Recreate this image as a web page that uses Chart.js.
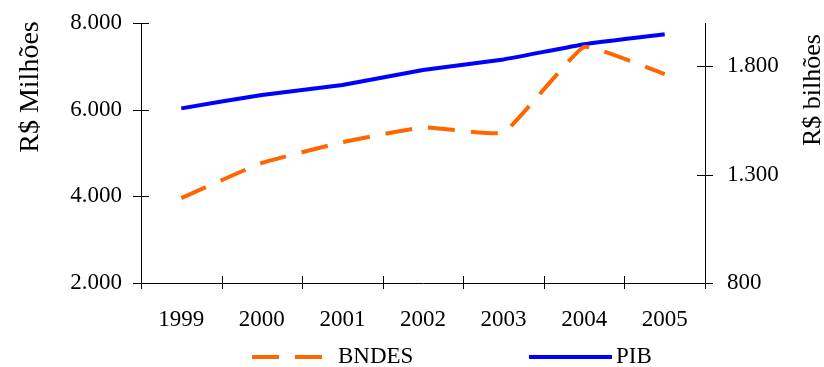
<!DOCTYPE html>
<html>
<head>
<meta charset="utf-8">
<style>
  html, body { margin: 0; padding: 0; background: #fff; }
  #c { display: block; }
</style>
<script src="https://cdn.jsdelivr.net/npm/chart.js@4/dist/chart.umd.min.js"></script>
</head>
<body>
<canvas id="c" width="824" height="367"></canvas>
<script>
// Desembolsos do BNDES (R$ milhões) e PIB (R$ bilhões), 1999–2005
const years = ['1999', '2000', '2001', '2002', '2003', '2004', '2005'];
const bndes = [3960, 4770, 5250, 5590, 5470, 7450, 6820];
const pib = [1606, 1668, 1714, 1783, 1832, 1902, 1948];
const leftTicks = [2000, 4000, 6000, 8000];
const rightTicks = [800, 1300, 1800];
const leftTitle = 'R$ Milhões';
const rightTitle = 'R$ bilhões';

const FONT = '"Liberation Serif", "Times New Roman", serif';
const fmt = n => String(n).replace(/\B(?=(\d{3})+(?!\d))/g, '.');

// Tick marks that cross each axis line
const crossTicks = {
  id: 'crossTicks',
  afterDraw(chart) {
    const { ctx, chartArea: a } = chart;
    const { x, y, y1 } = chart.scales;
    ctx.save();
    ctx.strokeStyle = '#000';
    ctx.lineWidth = 1;
    ctx.beginPath();
    y.ticks.forEach(t => {
      const p = Math.round(y.getPixelForValue(t.value)) + 0.5;
      ctx.moveTo(a.left - 8, p); ctx.lineTo(a.left + 8, p);
    });
    y1.ticks.forEach(t => {
      const p = Math.round(y1.getPixelForValue(t.value)) + 0.5;
      ctx.moveTo(a.right - 8, p); ctx.lineTo(a.right + 8, p);
    });
    for (let i = 0; i <= years.length; i++) {
      const p = Math.round(x.getPixelForValue(i - 0.5)) + 0.5;
      ctx.moveTo(p, a.bottom - 7); ctx.lineTo(p, a.bottom + 6);
    }
    ctx.stroke();
    ctx.restore();
  }
};

// Rotated axis titles
function drawVertical(ctx, text, cx, cy, size) {
  ctx.save();
  ctx.fillStyle = '#000';
  ctx.font = size + 'px ' + FONT;
  ctx.textAlign = 'center';
  ctx.textBaseline = 'middle';
  ctx.translate(cx, cy);
  ctx.rotate(-Math.PI / 2);
  ctx.fillText(text, 0, 0);
  ctx.restore();
}
const axisTitles = {
  id: 'axisTitles',
  afterDraw(chart) {
    drawVertical(chart.ctx, leftTitle, 31, 87, 28);
    drawVertical(chart.ctx, rightTitle, 813, 90, 26);
  }
};

// Series key below the plot, styled from each dataset
const seriesKey = {
  id: 'seriesKey',
  afterDraw(chart) {
    const ctx = chart.ctx;
    const slots = [{ x: 252, w: 71, gap: 15 }, { x: 529, w: 83, gap: 4 }];
    const yMid = 357;
    chart.data.datasets.forEach((ds, i) => {
      const s = slots[i];
      ctx.save();
      ctx.strokeStyle = ds.borderColor;
      ctx.lineWidth = ds.borderWidth;
      ctx.setLineDash(ds.borderDash || []);
      ctx.beginPath();
      ctx.moveTo(s.x, yMid); ctx.lineTo(s.x + s.w, yMid);
      ctx.stroke();
      ctx.setLineDash([]);
      ctx.fillStyle = '#000';
      ctx.font = '23px ' + FONT;
      ctx.textAlign = 'left';
      ctx.textBaseline = 'middle';
      ctx.fillText(ds.label, s.x + s.w + s.gap, yMid);
      ctx.restore();
    });
  }
};

const noPad = s => { s.paddingTop = 0; s.paddingBottom = 0; s.paddingLeft = 0; s.paddingRight = 0; };

new Chart(document.getElementById('c'), {
  type: 'line',
  data: {
    labels: years,
    datasets: [
      {
        label: 'BNDES',
        data: bndes,
        yAxisID: 'y',
        borderColor: '#FF6600',
        borderWidth: 4,
        borderDash: [27, 16],
        borderCapStyle: 'butt',
        pointRadius: 0,
        tension: 0.1,
        fill: false
      },
      {
        label: 'PIB',
        data: pib,
        yAxisID: 'y1',
        borderColor: '#0000FF',
        borderWidth: 4,
        pointRadius: 0,
        tension: 0.1,
        fill: false
      }
    ]
  },
  options: {
    responsive: false,
    animation: false,
    events: [],
    layout: { padding: { top: 23, left: 0, right: 0, bottom: 0 } },
    plugins: { legend: { display: false }, tooltip: { enabled: false } },
    scales: {
      x: {
        offset: true,
        grid: { display: false, drawTicks: false, offset: true },
        border: { display: true, color: '#000', width: 1 },
        ticks: { color: '#000', font: { family: FONT, size: 23 }, padding: 23, maxRotation: 0, autoSkip: false },
        afterFit(s) { s.height = 84; noPad(s); }
      },
      y: {
        position: 'left',
        min: 2000, max: 8000,
        afterBuildTicks(s) { s.ticks = leftTicks.map(v => ({ value: v })); },
        grid: { display: false, drawTicks: false },
        border: { display: true, color: '#000', width: 1 },
        ticks: { color: '#000', font: { family: FONT, size: 23 }, padding: 19, callback: v => fmt(v) },
        afterFit(s) { s.width = 141; noPad(s); }
      },
      y1: {
        position: 'right',
        min: 800, max: 2000,
        afterBuildTicks(s) { s.ticks = rightTicks.map(v => ({ value: v })); },
        grid: { display: false, drawTicks: false },
        border: { display: true, color: '#000', width: 1 },
        ticks: { color: '#000', font: { family: FONT, size: 23 }, padding: 22, callback: v => fmt(v) },
        afterFit(s) { s.width = 119; noPad(s); }
      }
    }
  },
  plugins: [crossTicks, axisTitles, seriesKey]
});
</script>
</body>
</html>
